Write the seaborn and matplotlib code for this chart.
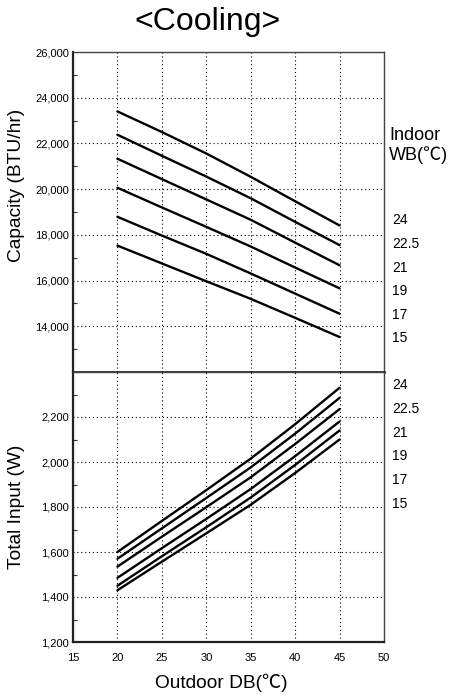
import numpy as np
import pandas as pd
import matplotlib
matplotlib.use('Agg')
import matplotlib.pyplot as plt
from matplotlib.ticker import FuncFormatter, MultipleLocator
import seaborn as sns

# outdoor dry bulb (x axis) and indoor wet bulb curves
outdoor_db = [20, 25, 30, 35, 40, 45]
indoor_wb = ['24', '22.5', '21', '19', '17', '15']

# capacity (BTU/hr), one list per indoor WB
cap_24 = [23400, 22500, 21560, 20540, 19470, 18410]
cap_225 = [22380, 21460, 20550, 19600, 18570, 17550]
cap_21 = [21330, 20440, 19550, 18660, 17660, 16670]
cap_19 = [20060, 19200, 18350, 17490, 16570, 15660]
cap_17 = [18790, 17970, 17170, 16310, 15430, 14550]
cap_15 = [17530, 16750, 15970, 15200, 14370, 13530]

# total input (W)
inp_24 = [1600, 1738, 1875, 2015, 2168, 2330]
inp_225 = [1570, 1705, 1840, 1976, 2126, 2285]
inp_21 = [1535, 1668, 1799, 1932, 2080, 2235]
inp_19 = [1485, 1617, 1747, 1880, 2026, 2180]
inp_17 = [1450, 1581, 1710, 1842, 1987, 2140]
inp_15 = [1430, 1557, 1683, 1810, 1951, 2100]

cap_ticks = [14000, 16000, 18000, 20000, 22000, 24000, 26000]
inp_ticks = [1200, 1400, 1600, 1800, 2000, 2200]
x_ticks = [15, 20, 25, 30, 35, 40, 45, 50]


def to_long(series):
    rows = []
    for wb, vals in zip(indoor_wb, series):
        for x, v in zip(outdoor_db, vals):
            rows.append({'db': x, 'val': v, 'wb': wb})
    return pd.DataFrame(rows)


df_cap = to_long([cap_24, cap_225, cap_21, cap_19, cap_17, cap_15])
df_inp = to_long([inp_24, inp_225, inp_21, inp_19, inp_17, inp_15])

sns.set_style('white')
plt.rcParams['font.family'] = ['Liberation Sans', 'Noto Sans CJK JP']
plt.rcParams['text.color'] = 'black'
plt.rcParams['xtick.color'] = 'black'
plt.rcParams['ytick.color'] = 'black'

W, H = 454, 696
fig = plt.figure(figsize=(W / 100, H / 100), dpi=100)
left, right = 73, 384
ax1 = fig.add_axes([left / W, 1 - 372 / H, (right - left) / W, 320 / H])
ax2 = fig.add_axes([left / W, 1 - 642 / H, (right - left) / W, 270 / H])

fmt = FuncFormatter(lambda v, p: f'{v:,.0f}')

for ax, df, ticks, ylim in [(ax1, df_cap, cap_ticks, (12000, 26000)),
                            (ax2, df_inp, inp_ticks, (1200, 2400))]:
    sns.lineplot(data=df, x='db', y='val', hue='wb', hue_order=indoor_wb,
                 palette=['black'] * 6, linewidth=1.7, legend=False, ax=ax)
    ax.set_xlim(15, 50)
    ax.set_ylim(*ylim)
    ax.set_xticks(x_ticks)
    ax.set_yticks(ticks)
    ax.yaxis.set_minor_locator(MultipleLocator((ticks[1] - ticks[0]) / 2))
    ax.yaxis.set_major_formatter(fmt)
    ax.grid(True, which='major', linestyle=(0, (1, 2.5)), color='black', linewidth=0.8)
    ax.tick_params(axis='y', which='both', direction='in', left=True, labelsize=8, pad=3,
                   labelcolor='black')
    ax.tick_params(axis='y', which='major', length=0)
    ax.tick_params(axis='y', which='minor', length=3, width=0.8, color='#333333')
    ax.tick_params(axis='x', direction='in', length=0, labelsize=8, pad=8, labelcolor='black')
    ax.set_xlabel('')
    ax.set_ylabel('')
    for s in ['top', 'right']:
        ax.spines[s].set_color('#444444')
        ax.spines[s].set_linewidth(1.0)
    for s in ['left', 'bottom']:
        ax.spines[s].set_color('#222222')
        ax.spines[s].set_linewidth(1.6)

ax1.tick_params(axis='x', labelbottom=False)
ax1.spines['bottom'].set_color('black')
ax1.spines['bottom'].set_linewidth(1.8)

# titles and axis labels
fig.text(207 / W, 1 - 22 / H, '<Cooling>', ha='center', va='center', fontsize=23)
fig.text(17 / W, 1 - 185 / H, 'Capacity (BTU/hr)', rotation=90, ha='center', va='center', fontsize=13.8)
fig.text(17 / W, 1 - 507 / H, 'Total Input (W)', rotation=90, ha='center', va='center', fontsize=13.8)
fig.text(221 / W, 1 - 683 / H, 'Outdoor DB(℃)', ha='center', va='center', fontsize=13.8)

# right side WB labels
fig.text(389 / W, 1 - 136 / H, 'Indoor', ha='left', va='center', fontsize=13)
fig.text(389 / W, 1 - 155 / H, 'WB(℃)', ha='left', va='center', fontsize=13)
for i, wb in enumerate(indoor_wb):
    fig.text(392 / W, 1 - (220.3 + i * 23.6) / H, wb, ha='left', va='center', fontsize=10)
    fig.text(392 / W, 1 - (385 + i * 23.8) / H, wb, ha='left', va='center', fontsize=10)

fig.savefig('out.png', dpi=100)
